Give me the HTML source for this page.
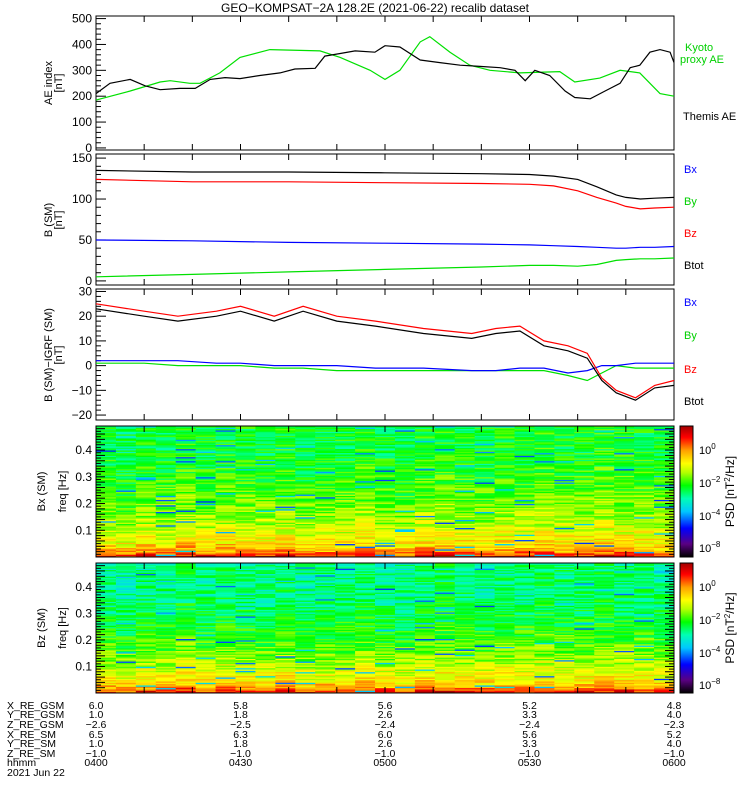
<!DOCTYPE html>
<html><head><meta charset="utf-8"><style>
body{margin:0;background:#fff}
svg{display:block;font-family:"Liberation Sans",sans-serif;font-size:11px}
</style></head><body>
<svg id="c" width="750" height="800" viewBox="0 0 750 800"></svg>
<script>
// ---------- data ----------
const aeThemisT=[0,2.9,7.1,10.2,13.3,17.4,20.6,23.7,26.8,29.9,34,38.2,41.3,45.5,47.5,50.7,53.8,57.9,60,63.1,67.3,71.4,75.6,79.7,83.9,87,89.1,91.1,94.2,97.4,99.4,102.6,105.7,108.8,110.9,112.9,115,117.1,119.2,120];
const aeThemisV=[210,250,265,240,225,230,230,265,272,268,280,290,305,308,355,365,375,370,395,390,340,330,320,315,310,300,260,300,280,220,195,190,220,250,310,320,370,380,370,330];
const aeKyotoT=[0,7.1,13.3,15.4,19.5,21.6,25.7,29.9,36.1,46.5,50.7,56.9,60,63.1,67.3,69.3,73.5,77.6,81.8,88,96.3,99.4,104.6,108.8,112.9,117.1,120];
const aeKyotoV=[185,220,255,260,250,250,290,350,380,375,350,300,265,300,410,430,370,320,300,290,295,255,270,300,290,210,200];
const bT=[0,20,40,60,80,90,95,100,104,108,110,113,116,120];
const bTot=[135,133,133,132,131,130,128,124,115,105,102,100,101,102];
const bBz=[124,121,121,120,119,118,116,110,102,95,91,88,89,90];
const bBx=[50,49,47,46,45,44,43,42,41,40,40,41,41,42];
const bBy=[5,8,11,14,17,19,19,18,20,25,26,27,27,28];
const dT=[0,10,17,25,30,37,43,50,58,68,78,83,88,93,98,102,105,108,112,116,120];
const dBz=[25,22,20,22,24,20,24,20,18,15,13,15,16,10,8,5,-5,-10,-13,-8,-6];
const dTot=[23,20,18,20,22,18,22,18,16,13,11,13,14,8,6,3,-6,-11,-14,-9,-8];
const dBx=[2,2,2,1,1,0,0,0,-1,-1,-2,-2,-1,-1,-3,-2,0,0,1,1,1];
const dBy=[1,1,0,0,0,-1,-1,-2,-2,-2,-2,-2,-2,-2,-4,-6,-3,0,-1,-1,-1];
const freqKnots=[0,0.02,0.05,0.1,0.15,0.2,0.3,0.4,0.5];
const bxProfile=[0.92,0.8,0.73,0.67,0.63,0.6,0.55,0.52,0.52];
const bzProfile=[0.92,0.8,0.72,0.66,0.6,0.56,0.5,0.47,0.47];
const colOffsetBx=[0,-.02,.01,0,.03,0,.02,.01,0,.02,-.01,0,.01,.02,0,-.01,.02,.03,.01,0,.02,.01,.03,.02,.01,.03,.02,.01,0];
const colOffsetBz=[0,-.02,.01,0,.03,0,.02,.01,0,.02,-.01,0,.01,.02,0,-.01,.02,.03,.01,0,.02,.01,.03,.02,.01,.03,.02,.01,0];
const timeTicks=["0400","0430","0500","0530","0600"];
const ephemNames=["X_RE_GSM","Y_RE_GSM","Z_RE_GSM","X_RE_SM","Y_RE_SM","Z_RE_SM"];
const ephem=[["6.0","5.8","5.6","5.2","4.8"],["1.0","1.8","2.6","3.3","4.0"],["\u22122.6","\u22122.5","\u22122.4","\u22122.4","\u22122.3"],["6.5","6.3","6.0","5.6","5.2"],["1.0","1.8","2.6","3.3","4.0"],["\u22121.0","\u22121.0","\u22121.0","\u22121.0","\u22121.0"]];

// ---------- helpers ----------
const NS="http://www.w3.org/2000/svg",svg=document.getElementById('c');
const X0=96,X1=674;
const xs=m=>X0+(X1-X0)*m/120;
function mk(tag,at,parent){const e=document.createElementNS(NS,tag);for(const k in at)e.setAttribute(k,at[k]);(parent||svg).appendChild(e);return e;}
function txt(s,x,y,at,parent){const e=mk('text',Object.assign({x:x,y:y},at||{}),parent);e.textContent=s;return e;}
const panels=[{t:16,b:150,min:-8,max:510},{t:154,b:285,min:-5,max:155},{t:289,b:420,min:-22,max:31},{t:426,b:557,min:0,max:0.49},{t:563,b:693,min:0,max:0.49}];
const ysc=(p,v)=>p.b-(v-p.min)/(p.max-p.min)*(p.b-p.t);

txt("GEO\u2212KOMPSAT\u22122A 128.2E (2021-06-22) recalib dataset",375,12,{"text-anchor":"middle","font-size":"12",});

// colormap
const cmapStops=[[0,[0,0,0]],[0.1,[90,0,130]],[0.22,[0,0,255]],[0.35,[0,200,255]],[0.45,[0,255,180]],[0.55,[0,255,0]],[0.65,[180,255,0]],[0.72,[255,255,0]],[0.82,[255,160,0]],[0.92,[255,0,0]],[1,[170,0,0]]];
function cmap(v){v=Math.max(0,Math.min(1,v));for(let i=1;i<cmapStops.length;i++){if(v<=cmapStops[i][0]){const a=cmapStops[i-1],b=cmapStops[i],f=(v-a[0])/(b[0]-a[0]);return 'rgb('+a[1].map((c,j)=>Math.round(c+(b[1][j]-c)*f)).join(',')+')';}}return 'rgb(170,0,0)';}
function interp(xk,yk,x){for(let i=1;i<xk.length;i++)if(x<=xk[i]){const f=(x-xk[i-1])/(xk[i]-xk[i-1]);return yk[i-1]+(yk[i]-yk[i-1])*f;}return yk[yk.length-1];}
function hash(a,b,s){let h=(a*374761393+b*668265263+s*2147483647)|0;h=(h^(h>>>13))*1274126177|0;return ((h^(h>>>16))>>>0)/4294967296;}

function frame(p,name){mk('rect',{x:X0,y:p.t,width:X1-X0,height:p.b-p.t,fill:'none',stroke:'#000','stroke-width':1,});
 for(let m=10;m<120;m+=10){mk('line',{x1:xs(m),x2:xs(m),y1:p.b,y2:p.b-6,stroke:'#000'});mk('line',{x1:xs(m),x2:xs(m),y1:p.t,y2:p.t+6,stroke:'#000'});}}
function yaxis(p,major,minor,labels,name){const g=mk('g',{});
 for(let v=Math.ceil(p.min/minor)*minor;v<=p.max+1e-9;v+=minor){const y=ysc(p,v);const isM=Math.abs(v/major-Math.round(v/major))<1e-6;mk('line',{x1:X0,x2:X0+(isM?10:5),y1:y,y2:y,stroke:'#000'},g);}
 labels.forEach(v=>txt(String(v).replace('-','\u2212'),X0-4,ysc(p,v)+4,{"text-anchor":"end","font-size":"12"},g));}
function line(p,T,V,color,name){const d=T.map((t,i)=>(i?'L':'M')+xs(t).toFixed(1)+' '+ysc(p,V[i]).toFixed(1)).join('');mk('path',{d:d,fill:'none',stroke:color,'stroke-width':1.2,});}
function ylab(lines,x,y,name){const g=mk('g',{transform:'translate('+x+','+y+') rotate(-90)'});lines.forEach((s,i)=>txt(s,0,i*10,{"text-anchor":"middle"},g));}

// panel 1
let p=panels[0];frame(p,'ae-panel');yaxis(p,100,20,[0,100,200,300,400,500],'ae');
line(p,aeKyotoT,aeKyotoV,'#00e000','kyoto-ae-line');line(p,aeThemisT,aeThemisV,'#000','themis-ae-line');
ylab(["AE index","[nT]"],52,83,'ae-y-title');
txt("Kyoto",685,51,{fill:'#00d000',});txt("proxy AE",680,63,{fill:'#00d000'});
txt("Themis AE",683,120,{});
// panel 2
p=panels[1];frame(p,'b-panel');yaxis(p,50,10,[0,50,100,150],'b');
line(p,bT,bBy,'#00e000','b-by-line');line(p,bT,bBx,'#0000ff','b-bx-line');line(p,bT,bBz,'#ff0000','b-bz-line');line(p,bT,bTot,'#000','b-btot-line');
ylab(["B (SM)","[nT]"],52,220,'b-y-title');
[["Bx",'#0000ff',173],["By",'#00d000',205],["Bz",'#ff0000',237],["Btot",'#000',269]].forEach(l=>txt(l[0],684,l[2],{fill:l[1],}));
// panel 3
p=panels[2];frame(p,'db-panel');yaxis(p,10,2,[-20,-10,0,10,20,30],'db');
line(p,dT,dBy,'#00e000','db-by-line');line(p,dT,dBx,'#0000ff','db-bx-line');line(p,dT,dTot,'#000','db-btot-line');line(p,dT,dBz,'#ff0000','db-bz-line');
ylab(["B (SM)\u2212IGRF (SM)","[nT]"],52,355,'db-y-title');
[["Bx",'#0000ff',306],["By",'#00d000',339],["Bz",'#ff0000',373],["Btot",'#000',405]].forEach(l=>txt(l[0],684,l[2],{fill:l[1],}));

// spectrograms
function spec(p,profile,colOff,seed,name,title){
 const g=mk('g',{});
 const nc=colOff.length,nr=100,df=0.5/nr;
 for(let c=0;c<nc;c++){const x0=X0+(X1-X0)*c/nc,x1=X0+(X1-X0)*(c+1)/nc;
  for(let r=0;r<nr;r++){const f=r*df;let v=interp(freqKnots,profile,f)+colOff[c]+(hash(c,r,seed)-0.5)*0.16;
   if(hash(r,c,seed+7)<0.035)v=0.25+hash(c,r,seed+3)*0.15;
   const y0=ysc(p,f+df),y1=ysc(p,f);if(y1<p.t)continue;
   mk('rect',{x:x0.toFixed(2),y:Math.max(p.t,y0).toFixed(2),width:(x1-x0+0.4).toFixed(2),height:(y1-Math.max(p.t,y0)+0.4).toFixed(2),fill:cmap(v)},g);}}
 frame(p,name);
 for(let r=1;r<49;r++){const y=ysc(p,r*0.01);const L=r%2?5:9;mk('line',{x1:X0,x2:X0+L,y1:y,y2:y,stroke:'#000'});mk('line',{x1:X1,x2:X1-L,y1:y,y2:y,stroke:'#000'});}
 [0.1,0.2,0.3,0.4].forEach(v=>txt(String(v),X0-4,ysc(p,v)+4,{"text-anchor":"end","font-size":"12"}));
 ylab([title],45,(p.t+p.b)/2,name+'-title');ylab(["freq [Hz]"],66,(p.t+p.b)/2,name+'-y-title');
 const cb=mk('g',{});
 for(let i=0;i<130;i++){mk('rect',{x:680,y:p.b-(i+1)*(p.b-p.t)/130,width:13,height:(p.b-p.t)/130+0.5,fill:cmap(i/129)},cb);}
 mk('rect',{x:680,y:p.t,width:13,height:p.b-p.t,fill:'none',stroke:'#000'},cb);
 [["0",24],["\u22122",57],["\u22124",90],["\u22128",122]].forEach(l=>{const t=txt("10",690+9,p.t+l[1]+4,{},cb);const s=mk('tspan',{dy:-5,'font-size':'8'},t);s.textContent=l[0];});
 const lt=mk('g',{transform:'translate(734,'+((p.t+p.b)/2)+') rotate(-90)'},cb);const t=txt("PSD [nT",0,0,{"text-anchor":"middle","font-size":"12"},lt);const s1=mk('tspan',{dy:-4,'font-size':'8'},t);s1.textContent="2";const s2=mk('tspan',{dy:4},t);s2.textContent="/Hz]";
}
spec(panels[3],bxProfile,colOffsetBx,11,'bx-spectrogram','Bx (SM)');
spec(panels[4],bzProfile,colOffsetBz,23,'bz-spectrogram','Bz (SM)');

// ephemeris
const eg=mk('g',{'font-size':'10.5'});
const rowsY=[709,718,728,738,747,757,766];
ephemNames.concat(["hhmm"]).forEach((n,i)=>txt(n,7,rowsY[i],{},eg));
txt("2021 Jun 22",7,776,{},eg);
for(let k=0;k<5;k++){const x=xs(k*30);ephem.forEach((r,i)=>txt(r[k],x,rowsY[i],{"text-anchor":"middle"},eg));txt(timeTicks[k],x,rowsY[6],{"text-anchor":"middle",},eg);}
</script>
</body></html>
